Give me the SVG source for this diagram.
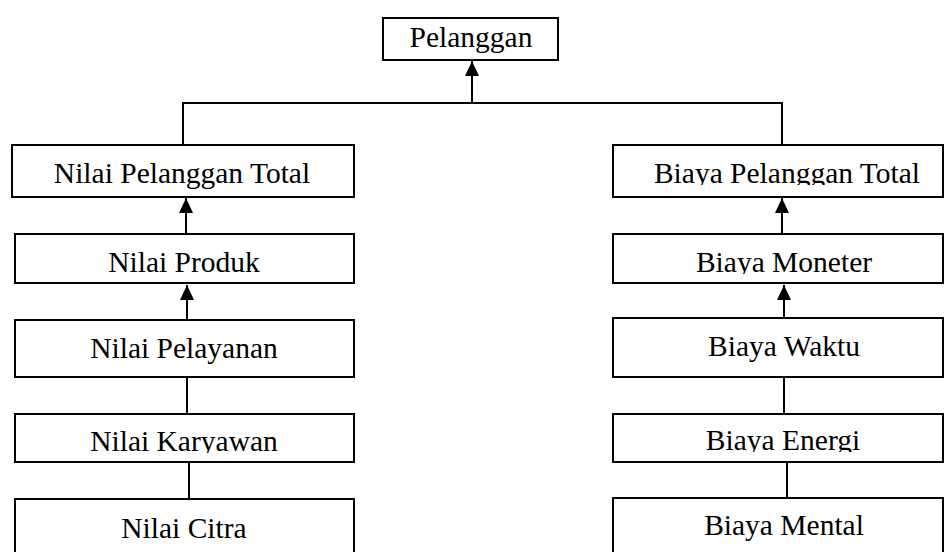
<svg xmlns="http://www.w3.org/2000/svg" width="945" height="552" viewBox="0 0 945 552">
<style>
.box{fill:#fff;stroke:#000;stroke-width:2}
.lbl{font-family:"Liberation Serif","Times New Roman",serif;font-size:29.5px;fill:#000;text-anchor:middle}
.con{stroke:#000;stroke-width:2;fill:none}
</style>
<defs>
<marker id="arr" viewBox="0 0 15 14" refX="15" refY="7" markerWidth="15" markerHeight="14" markerUnits="userSpaceOnUse" orient="auto">
<path d="M0,0 L15,7 L0,14 z" fill="#000"/>
</marker>
<clipPath id="cBPT"><rect x="613" y="145" width="332" height="40"/></clipPath>
<clipPath id="cBMo"><rect x="613" y="234" width="332" height="40"/></clipPath>
<clipPath id="cBEn"><rect x="613" y="414" width="332" height="38"/></clipPath>
<clipPath id="cNKa"><rect x="15" y="414" width="340" height="39"/></clipPath>
</defs>
<g id="connectors">
<path class="con" d="M472,103 L472,61" marker-end="url(#arr)"/>
<path class="con" d="M183,145 L183,103 L782,103 L782,145"/>
<path class="con" d="M186,234 L186,198" marker-end="url(#arr)"/>
<path class="con" d="M187,320 L187,285" marker-end="url(#arr)"/>
<path class="con" d="M187,377 L187,414"/>
<path class="con" d="M189,462 L189,499"/>
<path class="con" d="M782,234 L782,198" marker-end="url(#arr)"/>
<path class="con" d="M784,320 L784,285" marker-end="url(#arr)"/>
<path class="con" d="M784,374 L784,414"/>
<path class="con" d="M787,459 L787,498"/>
</g>
<g id="pelanggan"><rect class="box" x="383" y="18" width="175" height="42"/><text class="lbl" x="471" y="47">Pelanggan</text></g>
<g id="nilai-pelanggan-total"><rect class="box" x="12" y="145" width="342" height="52"/><text class="lbl" x="182" y="183">Nilai Pelanggan Total</text></g>
<g id="nilai-produk"><rect class="box" x="15" y="234" width="339" height="49"/><text class="lbl" x="184" y="272">Nilai Produk</text></g>
<g id="nilai-pelayanan"><rect class="box" x="15" y="320" width="339" height="57"/><text class="lbl" x="184" y="358">Nilai Pelayanan</text></g>
<g id="nilai-karyawan"><rect class="box" x="15" y="414" width="339" height="48"/><text class="lbl" x="184" y="451" clip-path="url(#cNKa)">Nilai Karyawan</text></g>
<g id="nilai-citra"><rect class="box" x="15" y="499" width="339" height="60"/><text class="lbl" x="184" y="538">Nilai Citra</text></g>
<g id="biaya-pelanggan-total"><rect class="box" x="613" y="145" width="330" height="52"/><text class="lbl" x="787" y="183" clip-path="url(#cBPT)">Biaya Pelanggan Total</text></g>
<g id="biaya-moneter"><rect class="box" x="613" y="234" width="330" height="49"/><text class="lbl" x="784" y="272" clip-path="url(#cBMo)">Biaya Moneter</text></g>
<g id="biaya-waktu"><rect class="box" x="613" y="318" width="330" height="59"/><text class="lbl" x="784" y="356">Biaya Waktu</text></g>
<g id="biaya-energi"><rect class="box" x="613" y="414" width="330" height="48"/><text class="lbl" x="783" y="450" clip-path="url(#cBEn)">Biaya Energi</text></g>
<g id="biaya-mental"><rect class="box" x="613" y="498" width="330" height="60"/><text class="lbl" x="784" y="535">Biaya Mental</text></g>
</svg>
